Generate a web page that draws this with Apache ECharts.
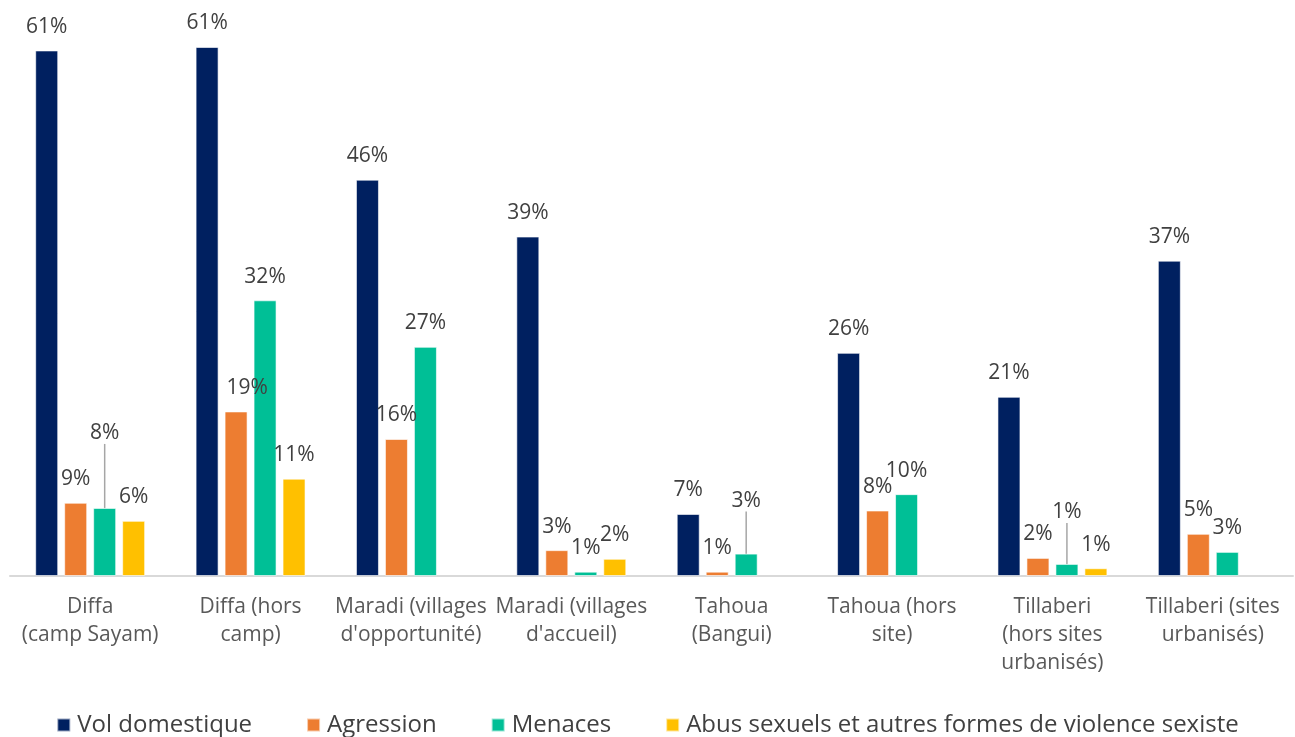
<!DOCTYPE html>
<html>
<head>
<meta charset="utf-8">
<script src="https://cdn.jsdelivr.net/npm/echarts@6/dist/echarts.min.js"></script>
<style>html,body{margin:0;padding:0;background:#fff}#c{width:1295px;height:737px}</style>
</head>
<body>
<div id="c"></div>
<script>
const categories = ["Diffa\n(camp Sayam)", "Diffa (hors\ncamp)", "Maradi (villages\nd'opportunité)", "Maradi (villages\nd'accueil)", "Tahoua\n(Bangui)", "Tahoua (hors\nsite)", "Tillaberi\n(hors sites\nurbanisés)", "Tillaberi (sites\nurbanisés)"];
const seriesNames = ["Vol domestique", "Agression", "Menaces", "Abus sexuels et autres formes de violence sexiste"];
const volDomestique = [61.0, 61.4, 46.0, 39.4, 7.2, 25.9, 20.8, 36.6];
const agression = [8.5, 19.1, 15.9, 3.0, 0.5, 7.6, 2.1, 4.9];
const menaces = [7.9, 32.0, 26.6, 0.5, 2.6, 9.5, 1.4, 2.8];
const abusSexuels = [6.4, 11.3, null, 2.0, null, null, 0.9, null];
const colors = ["#002060", "#ED7D31", "#00BF96", "#FFC000"];

const chart = echarts.init(document.getElementById('c'), null, {renderer: 'canvas'});
const fontFamily = '"Open Sans", "Noto Sans", sans-serif';
const valueSets = [volDomestique, agression, menaces, abusSexuels];
// label moves (layout only); leader = draw guide line
const moves = {
  "1-1": {dx: 11, dy: 0, leader: false},
  "2-0": {dx: 0, dy: -51, leader: true},
  "2-4": {dx: 0, dy: -29, leader: true},
  "2-6": {dx: 0, dy: -28, leader: true}
};
const series = valueSets.map((vals, i) => ({
  name: seriesNames[i],
  type: 'bar',
  data: vals.map((v, j) => {
    const m = moves[i + '-' + j];
    if (m && m.leader) {
      return {value: v, labelLine: {show: true, lineStyle: {color: '#a6a6a6', width: 1.5}}};
    }
    return v;
  }),
  barWidth: 23,
  barGap: '26%',
  itemStyle: {color: colors[i], borderColor: 'rgba(255,255,255,0.6)', borderWidth: 1},
  label: {
    show: true,
    position: 'top',
    distance: 13,
    color: '#404040',
    fontSize: 21,
    fontFamily: fontFamily,
    formatter: p => (p.value == null ? '' : Math.round(p.value) + '%')
  },
  labelLine: {show: false},
  labelLayout: function (p) {
    const m = moves[i + '-' + p.dataIndex];
    return m ? {dx: m.dx, dy: m.dy} : {};
  }
}));

chart.setOption({
  animation: false,
  color: colors,
  grid: {left: 10, right: 2, top: 16, bottom: 161, containLabel: false},
  legend: {
    bottom: -5,
    left: 'center',
    itemWidth: 13,
    itemHeight: 13,
    itemGap: 54,
    icon: 'rect',
    textStyle: {fontSize: 24, color: '#404040', fontFamily: fontFamily, padding: [0, 0, 0, 2]},
    data: seriesNames
  },
  xAxis: {
    type: 'category',
    data: categories,
    axisTick: {show: false},
    axisLine: {show: true, lineStyle: {color: '#d9d9d9', width: 2}},
    axisLabel: {
      interval: 0,
      margin: 17,
      fontSize: 21,
      lineHeight: 28,
      color: '#595959',
      fontFamily: fontFamily
    }
  },
  yAxis: {
    type: 'value',
    min: 0,
    max: 65,
    show: false,
    splitLine: {show: false}
  },
  series: series
});
</script>
</body>
</html>
